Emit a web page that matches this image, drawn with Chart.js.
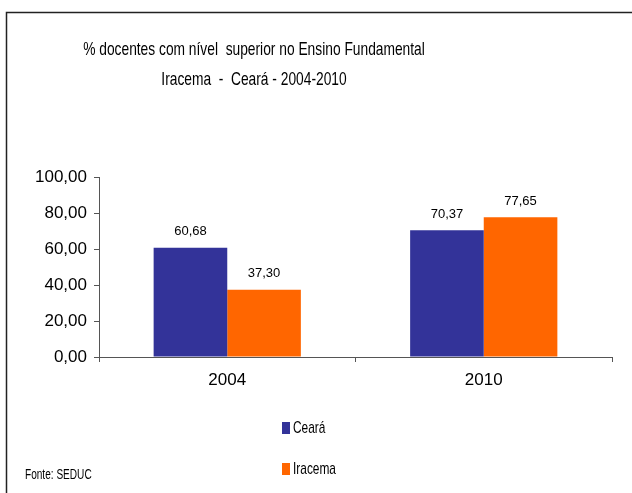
<!DOCTYPE html>
<html>
<head>
<meta charset="utf-8">
<script src="https://cdn.jsdelivr.net/npm/chart.js@4/dist/chart.umd.min.js"></script>
<style>
  html, body { margin: 0; padding: 0; background: #fff; }
  #wrap { width: 632px; height: 493px; position: relative; }
</style>
</head>
<body>
<div id="wrap"><canvas id="myChart" width="632" height="493"></canvas></div>
<script>
// data
const categories = ["2004", "2010"];
const cearaValues = [60.68, 70.37];
const iracemaValues = [37.30, 77.65];
const seriesNames = ["Ceará", "Iracema"];
const yTicks = [0, 20, 40, 60, 80, 100];
const titleLines = ["% docentes com nível  superior no Ensino Fundamental", "Iracema  -  Ceará - 2004-2010"];
const sourceText = "Fonte: SEDUC";

const colors = ["#333399", "#FF6600"];
const sans = "'Liberation Sans', Arial, sans-serif";
const fmt = v => v.toFixed(2).replace(".", ",");

// the original uses a narrow face, so squeeze the text horizontally
function narrowText(ctx, text, x, y, sx) {
  ctx.save();
  ctx.translate(x, y);
  ctx.scale(sx, 1);
  ctx.fillText(text, 0, 0);
  ctx.restore();
}

// draws frame, title, value labels, legend and source note
const decorations = {
  id: "decorations",
  beforeDraw(chart) {
    const ctx = chart.ctx;
    ctx.save();
    ctx.strokeStyle = "#222";
    ctx.lineWidth = 1.5;
    ctx.beginPath();
    ctx.moveTo(6.5, 493);
    ctx.lineTo(6.5, 12.5);
    ctx.lineTo(632, 12.5);
    ctx.stroke();
    ctx.restore();
  },
  afterDatasetsDraw(chart) {
    const ctx = chart.ctx;
    ctx.save();
    ctx.fillStyle = "#000";
    ctx.textAlign = "center";
    ctx.textBaseline = "middle";

    ctx.font = "18.5px " + sans;
    narrowText(ctx, titleLines[0], 254, 50, 0.745);
    narrowText(ctx, titleLines[1], 254, 80, 0.745);

    ctx.font = "13px " + sans;
    chart.data.datasets.forEach((ds, i) => {
      chart.getDatasetMeta(i).data.forEach((bar, j) => {
        ctx.fillText(fmt(ds.data[j]), bar.x, bar.y - 16);
      });
    });

    // legend
    ctx.textAlign = "left";
    ctx.font = "17px " + sans;
    seriesNames.forEach((name, i) => {
      const cy = 428 + i * 41;
      ctx.fillStyle = colors[i];
      ctx.fillRect(282, cy - 6, 8, 12);
      ctx.fillStyle = "#000";
      narrowText(ctx, name, 293, cy, 0.7);
    });

    ctx.font = "14px " + sans;
    narrowText(ctx, sourceText, 25, 475, 0.72);
    ctx.restore();
  }
};

new Chart(document.getElementById("myChart"), {
  type: "bar",
  data: {
    labels: categories,
    datasets: [
      { label: seriesNames[0], data: cearaValues, backgroundColor: colors[0] },
      { label: seriesNames[1], data: iracemaValues, backgroundColor: colors[1] }
    ]
  },
  options: {
    responsive: false,
    animation: false,
    layout: { padding: { top: 177, right: 20, bottom: 96, left: 0 } },
    plugins: { legend: { display: false }, title: { display: false }, tooltip: { enabled: false } },
    datasets: { bar: { categoryPercentage: 0.574, barPercentage: 1 } },
    scales: {
      x: {
        afterFit: s => { s.height = 40; },
        grid: { drawOnChartArea: false, drawTicks: true, tickLength: 5, color: "#555" },
        border: { color: "#555", width: 1 },
        ticks: { color: "#000", font: { family: sans, size: 17 }, padding: 8 }
      },
      y: {
        min: 0,
        max: 100,
        afterFit: s => { s.width = 99; },
        afterBuildTicks: s => { s.ticks = yTicks.map(v => ({ value: v })); },
        grid: { drawOnChartArea: false, drawTicks: true, tickLength: 5, color: "#555" },
        border: { color: "#555", width: 1 },
        ticks: { color: "#000", font: { family: sans, size: 17 }, padding: 7, callback: v => fmt(v) }
      }
    }
  },
  plugins: [decorations]
});
</script>
</body>
</html>
